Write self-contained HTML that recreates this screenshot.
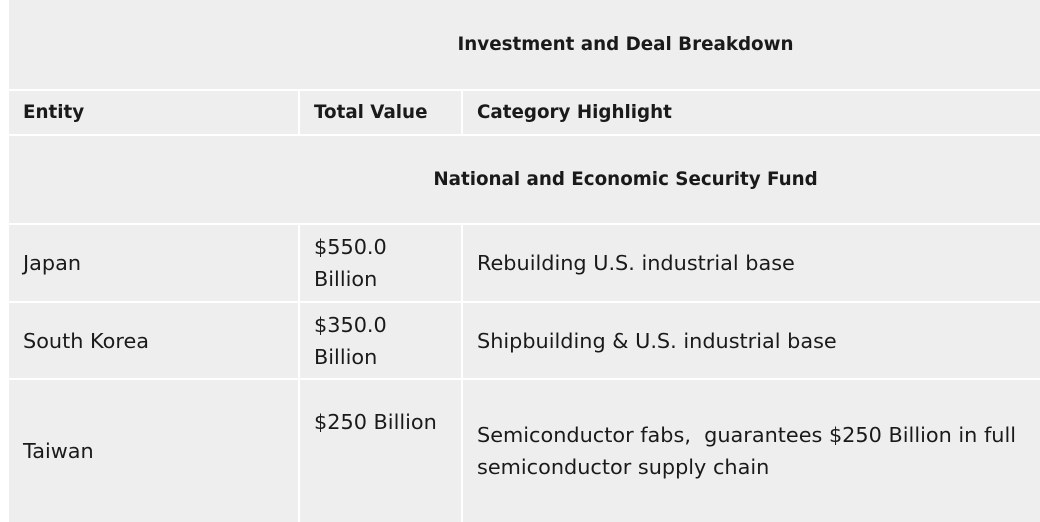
<!DOCTYPE html>
<html><head><style>
body{margin:0;width:1040px;height:522px;background:#fff;overflow:hidden;font-family:"DejaVu Sans","Liberation Sans",sans-serif;color:#1a1a1a;}
.c{position:absolute;background:#eeeeee;box-sizing:border-box;font-size:20.8px;line-height:32px;}
.b{font-weight:bold;font-size:18.3px;}
.v{display:flex;align-items:center;padding-left:14px;}
</style></head><body>
<div class="c b" style="left:9px;top:0;width:1031px;height:89px;display:flex;align-items:center;justify-content:center;padding-left:202px">Investment and Deal Breakdown</div>
<div class="c b v" style="left:9px;top:91px;width:289px;height:43px">Entity</div>
<div class="c b v" style="left:300px;top:91px;width:161px;height:43px">Total Value</div>
<div class="c b v" style="left:463px;top:91px;width:577px;height:43px">Category Highlight</div>
<div class="c b" style="left:9px;top:136px;width:1031px;height:87px;display:flex;align-items:center;justify-content:center;padding-left:202px">National and Economic Security Fund</div>
<div class="c v" style="left:9px;top:225px;width:289px;height:76px">Japan</div>
<div class="c v" style="left:300px;top:225px;width:161px;height:76px">$550.0<br>Billion</div>
<div class="c v" style="left:463px;top:225px;width:577px;height:76px">Rebuilding U.S. industrial base</div>
<div class="c v" style="left:9px;top:303px;width:289px;height:75px">South Korea</div>
<div class="c v" style="left:300px;top:303px;width:161px;height:75px">$350.0<br>Billion</div>
<div class="c v" style="left:463px;top:303px;width:577px;height:75px">Shipbuilding &amp; U.S. industrial base</div>
<div class="c v" style="left:9px;top:380px;width:289px;height:142px">Taiwan</div>
<div class="c" style="left:300px;top:380px;width:161px;height:142px;padding:26px 0 0 14px">$250 Billion</div>
<div class="c v" style="left:463px;top:380px;width:577px;height:142px">Semiconductor fabs,&nbsp; guarantees $250 Billion in full<br>semiconductor supply chain</div>
</body></html>
